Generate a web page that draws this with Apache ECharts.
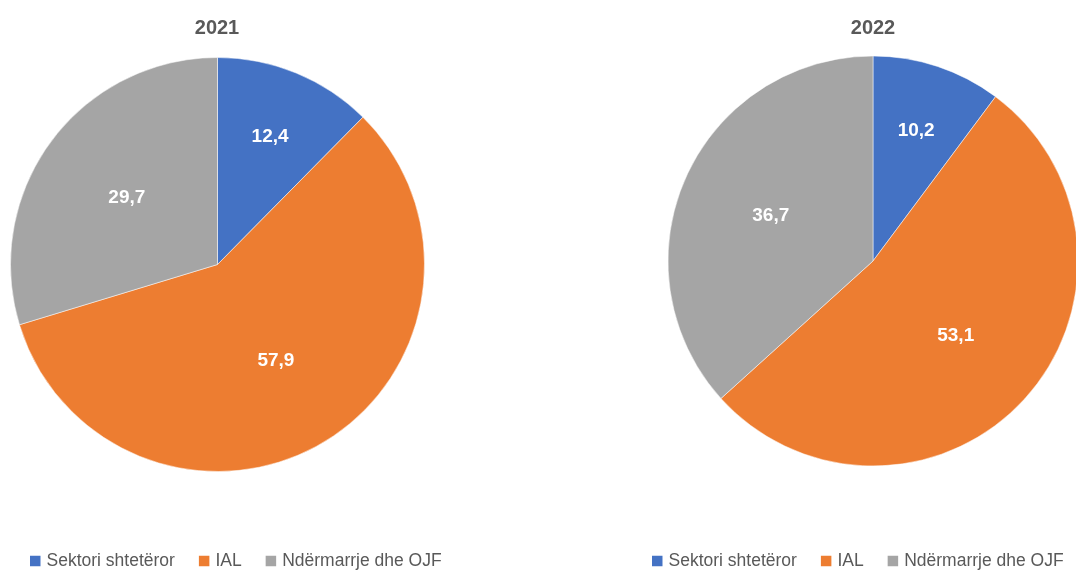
<!DOCTYPE html>
<html>
<head>
<meta charset="utf-8">
<script src="https://cdn.jsdelivr.net/npm/echarts@6/dist/echarts.min.js"></script>
<style>
  html, body { margin: 0; padding: 0; background: #fff; }
  #chart { width: 1076px; height: 572px; }
</style>
</head>
<body>
<div id="chart"></div>
<script>
const categories = ["Sektori shtetëror", "IAL", "Ndërmarrje dhe OJF"];
const years = ["2021", "2022"];
const values2021 = [12.4, 57.9, 29.7];
const values2022 = [10.2, 53.1, 36.7];
const colors = ["#4472C4", "#ED7D31", "#A5A5A5"];

const FONT = "'Liberation Sans', Arial, sans-serif";
const TEXT = "#595959";
const centers = [[217.5, 264.5], [873, 261]];

function toData(vals) {
  return categories.map((name, i) => ({ name, value: vals[i] }));
}

function pieSeries(vals, center, radius) {
  return {
    type: "pie",
    center,
    radius: [0, radius],
    startAngle: 90,
    clockwise: true,
    silent: true,
    itemStyle: { borderColor: "#fff", borderWidth: 0.5 },
    label: {
      show: true,
      position: "inside",
      color: "#fff",
      fontFamily: FONT,
      fontWeight: "bold",
      fontSize: 19,
      formatter: (p) => p.value.toFixed(1).replace(".", ","),
    },
    labelLine: { show: false },
    // push labels outward a bit, small slices more (like Excel's placement)
    labelLayout: (params) => {
      const c = centers[params.seriesIndex];
      const r = params.labelRect;
      const cx = r.x + r.width / 2;
      const cy = r.y + r.height / 2;
      const share = vals[params.dataIndex] / vals.reduce((a, b) => a + b, 0);
      const k = share < 0.2 ? 0.3 : 0.06;
      return { dx: (cx - c[0]) * k, dy: (cy - c[1]) * k };
    },
    data: toData(vals),
  };
}

function legend(left) {
  return {
    left,
    top: 552,
    padding: 0,
    data: categories,
    icon: "rect",
    itemWidth: 12.5,
    itemHeight: 12.5,
    itemGap: 22,
    selectedMode: false,
    textStyle: { color: TEXT, fontFamily: FONT, fontSize: 17.5 },
  };
}

const chart = echarts.init(document.getElementById("chart"), null, { renderer: "canvas" });
chart.setOption({
  animation: false,
  color: colors,
  title: [
    { text: years[0], left: 217, top: 18, padding: 0, textAlign: "center",
      textStyle: { color: TEXT, fontFamily: FONT, fontWeight: "bold", fontSize: 20 } },
    { text: years[1], left: 873, top: 18, padding: 0, textAlign: "center",
      textStyle: { color: TEXT, fontFamily: FONT, fontWeight: "bold", fontSize: 20 } },
  ],
  legend: [legend(28), legend(650)],
  series: [
    pieSeries(values2021, centers[0], 207),
    pieSeries(values2022, centers[1], 205),
  ],
});
</script>
</body>
</html>
